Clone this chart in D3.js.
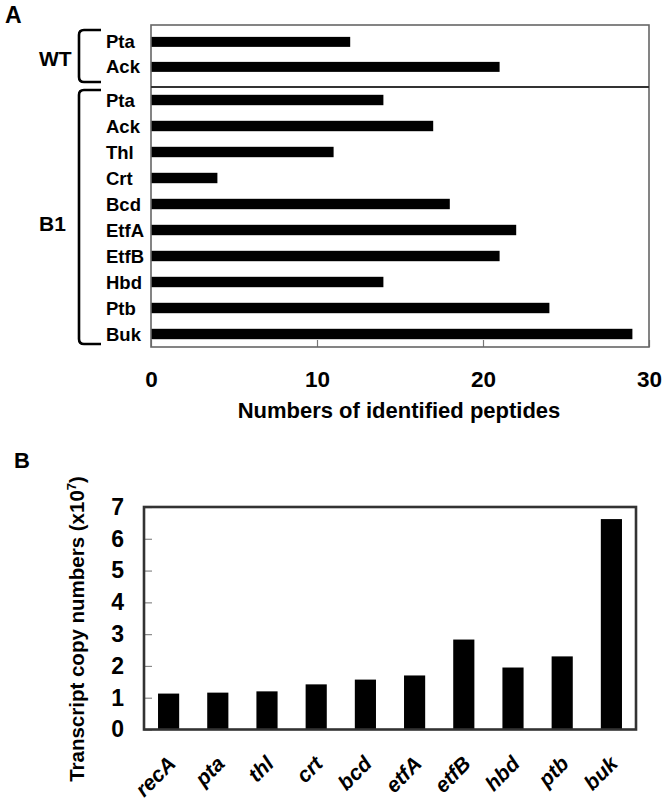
<!DOCTYPE html>
<html><head><meta charset="utf-8">
<script src="https://cdn.jsdelivr.net/npm/d3@7"></script>
<style>
html,body{margin:0;padding:0;background:#fff;}
body{position:relative;width:666px;height:809px;overflow:hidden;}
svg{display:block;font-family:"Liberation Sans",Arial,sans-serif;font-weight:bold;}
.glab{position:absolute;white-space:nowrap;line-height:1;font:italic bold 21px "Liberation Sans",Arial,sans-serif;color:#000;transform-origin:0 0;}
</style></head>
<body><svg id="c" width="666" height="809"></svg>
<script>
// ---- Panel A data ----
const wtCats = ["Pta", "Ack"];
const wtVals = [12, 21];
const b1Cats = ["Pta", "Ack", "Thl", "Crt", "Bcd", "EtfA", "EtfB", "Hbd", "Ptb", "Buk"];
const b1Vals = [14, 17, 11, 4, 18, 22, 21, 14, 24, 29];
const xTicksA = [0, 10, 20, 30];
const xTitleA = "Numbers of identified peptides";
// ---- Panel B data ----
const genes = ["recA", "pta", "thl", "crt", "bcd", "etfA", "etfB", "hbd", "ptb", "buk"];
const copies = [1.13, 1.16, 1.2, 1.42, 1.57, 1.7, 2.83, 1.95, 2.3, 6.62];
const yTicksB = [0, 1, 2, 3, 4, 5, 6, 7];

const FONT = "Liberation Sans, Arial, sans-serif";
const svg = d3.select("#c");

// ================= Panel A =================
const aL = 151, aR = 649, aT = 25, aMid = 87, aB = 347;
const xA = d3.scaleLinear().domain([0, 30]).range([aL, aR]);
const yWT = d3.scaleBand().domain(wtCats.map((d, i) => i)).range([aT, aMid])
  .paddingInner(0.6).paddingOuter(0.54).align(0.44);
const yB1 = d3.scaleBand().domain(b1Cats.map((d, i) => i)).range([aMid, aB])
  .paddingInner(0.6).paddingOuter(0.3);

svg.append("text").attr("x", 5).attr("y", 23).attr("font-size", 23).text("A");

svg.append("g").selectAll("rect").data(wtVals).join("rect")
  .attr("x", xA(0)).attr("y", (d, i) => yWT(i))
  .attr("width", d => xA(d) - xA(0)).attr("height", yWT.bandwidth()).attr("fill", "#000");
svg.append("g").selectAll("rect").data(b1Vals).join("rect")
  .attr("x", xA(0)).attr("y", (d, i) => yB1(i))
  .attr("width", d => xA(d) - xA(0)).attr("height", yB1.bandwidth()).attr("fill", "#000");

const axA = svg.append("g").attr("transform", `translate(0,${aB})`)
  .call(d3.axisBottom(xA).tickValues(xTicksA).tickFormat(d3.format("d")).tickSize(-7).tickPadding(24));
axA.select(".domain").remove();
axA.selectAll(".tick line").attr("stroke", "#777").attr("stroke-width", 1.2);
axA.selectAll(".tick text").attr("font-size", 22.5).attr("font-family", FONT)
  .attr("font-weight", "bold").attr("fill", "#000");

svg.append("rect").attr("x", aL).attr("y", aT).attr("width", aR - aL).attr("height", aB - aT)
  .attr("fill", "none").attr("stroke", "#666").attr("stroke-width", 1.6);
svg.append("line").attr("x1", aL).attr("x2", aR).attr("y1", aMid).attr("y2", aMid)
  .attr("stroke", "#333").attr("stroke-width", 1.8);

svg.append("g").selectAll("text").data(wtCats).join("text")
  .attr("x", 106).attr("y", (d, i) => yWT(i) + yWT.bandwidth() / 2 + 6.5)
  .attr("font-size", 18.5).text(d => d);
svg.append("g").selectAll("text").data(b1Cats).join("text")
  .attr("x", 106).attr("y", (d, i) => yB1(i) + yB1.bandwidth() / 2 + 6.5)
  .attr("font-size", 18.5).text(d => d);

function bracket(y0, y1) {
  const x0 = 79, x1 = 101, r = 5;
  return `M${x1},${y0} L${x0 + r},${y0} Q${x0},${y0} ${x0},${y0 + r} L${x0},${y1 - r} Q${x0},${y1} ${x0 + r},${y1} L${x1},${y1}`;
}
svg.append("path").attr("d", bracket(30, 82)).attr("fill", "none").attr("stroke", "#000").attr("stroke-width", 2.6);
svg.append("path").attr("d", bracket(90, 344)).attr("fill", "none").attr("stroke", "#000").attr("stroke-width", 2.6);
svg.append("text").attr("x", 39).attr("y", 66).attr("font-size", 21).text("WT");
svg.append("text").attr("x", 39).attr("y", 231).attr("font-size", 21).text("B1");

svg.append("text").attr("x", 399).attr("y", 418).attr("text-anchor", "middle")
  .attr("font-size", 22).text(xTitleA);

// ================= Panel B =================
const bL = 144, bR = 636, bT = 507, bB = 729.5;
const xB = d3.scaleBand().domain(genes).range([bL, bR]).paddingInner(0.57).paddingOuter(0.285);
const yB = d3.scaleLinear().domain([0, 7]).range([bB, bT]);

svg.append("text").attr("x", 14).attr("y", 468).attr("font-size", 22).text("B");

svg.append("g").selectAll("rect").data(copies).join("rect")
  .attr("x", (d, i) => xB(genes[i])).attr("y", d => yB(d))
  .attr("width", xB.bandwidth()).attr("height", d => yB(0) - yB(d)).attr("fill", "#000");

const ayB = svg.append("g").attr("transform", `translate(${bL},0)`)
  .call(d3.axisLeft(yB).tickValues(yTicksB).tickFormat(d3.format("d")).tickSize(-8).tickPadding(20));
ayB.select(".domain").remove();
ayB.selectAll(".tick line").attr("stroke", "#888").attr("stroke-width", 1.2);
ayB.selectAll(".tick text").attr("font-size", 23).attr("font-family", FONT)
  .attr("font-weight", "bold").attr("fill", "#000");

svg.append("rect").attr("x", bL).attr("y", bT).attr("width", bR - bL).attr("height", bB - bT)
  .attr("fill", "none").attr("stroke", "#333").attr("stroke-width", 2.6);

// gene labels: HTML overlays rotated 45°, right end anchored under each bar
d3.select("body").selectAll("div.glab").data(genes).join("div")
  .attr("class", "glab")
  .style("left", d => (xB(d) + xB.bandwidth() / 2 + 9) + "px")
  .style("top", "766px")
  .style("transform", "rotate(-45deg) translate(-100%, -85%)")
  .text(d => d);

const yt = svg.append("text").attr("transform", `translate(84,629) rotate(-90)`)
  .attr("text-anchor", "middle").attr("font-size", 20.5);
yt.append("tspan").text("Transcript copy numbers (x10");
yt.append("tspan").attr("dy", -8).attr("font-size", 13).text("7");
yt.append("tspan").attr("dy", 8).text(")");
</script></body></html>
